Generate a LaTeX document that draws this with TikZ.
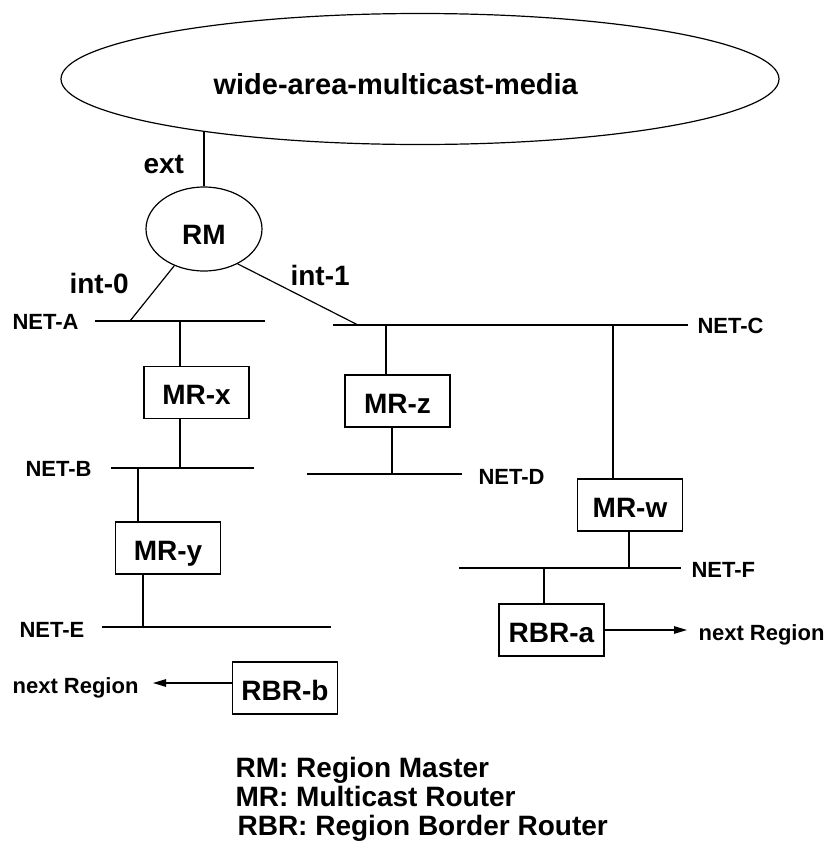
\documentclass[tikz,border=0pt]{standalone}
\usepackage{fontspec}
\setmainfont{Liberation Sans}
\usetikzlibrary{arrows.meta,shapes.geometric}

\begin{document}
\begin{tikzpicture}[x=1pt,y=-1pt,line width=1.2pt,>={Triangle[length=13pt,width=7.5pt]},
  big/.style={font=\bfseries\fontsize{28}{30}\selectfont},
  small/.style={font=\bfseries\fontsize{22}{24}\selectfont},
  lbl/.style={inner sep=0pt,anchor=base west},
  router/.style={draw,big,minimum width=105pt,minimum height=52pt,inner sep=0pt,
    text height=24pt,text depth=0pt}]
  \useasboundingbox (0,0) rectangle (828,855);
  % wide area media and region master
  \node[draw,ellipse,minimum width=718pt,minimum height=131pt] (wam) at (420,79) {};
  \node[lbl,font=\bfseries\fontsize{29}{31}\selectfont] (wamtxt) at (213,94) {wide-area-multicast-media};
  \node[draw,ellipse,big,minimum width=116pt,minimum height=84pt,inner sep=0pt,
    text height=30pt,text depth=0pt] (rm) at (204,229) {RM};
  \draw (rm.north) -- (rm.north |- wam.-166.4);
  \node[lbl,big] (ext) at (143,173) {ext};
  \node[lbl,big] (int0) at (69,293) {int-0};
  \node[lbl,big] (int1) at (290,285) {int-1};
  % networks
  \foreach \n/\xa/\xb/\y/\lx/\ly in {A/95/265/321/12/329, B/111/254/468/25/476,
      E/102/331/627/19/637, C/333/688/325/697/333, D/307/462/474/478/484,
      F/459/681/568/691/577} {
    \draw (\xa,\y) coordinate (net\n-w) -- (\xb,\y) coordinate (net\n-e);
    \node[lbl,small] (lbl\n) at (\lx,\ly) {NET-\n};
  }
  % routers
  \node[router] (mrx) at (196.5,392.5) {MR-x};
  \node[router] (mry) at (168,548) {MR-y};
  \node[router] (mrz) at (397.5,401) {MR-z};
  \node[router] (mrw) at (630,505) {MR-w};
  \node[router] (rbra) at (551.5,630) {RBR-a};
  \node[router] (rbrb) at (285,688) {RBR-b};
  % taps from the networks
  \foreach \t/\x/\y/\r/\s in {tA/180/321/mrx/north, tB/180/468/mrx/south,
      tB2/138/468/mry/north, tE/143/627/mry/south, tC/386/325/mrz/north,
      tD/392/474/mrz/south, tC2/613/325/mrw/north, tF/629/568/mrw/south,
      tF2/544/568/rbra/north} {
    \coordinate (\t) at (\x,\y);
    \draw (\t) -- (\r.\s -| \t);
  }
  \coordinate (tA0) at (130,321);
  \coordinate (tC0) at (358,325);
  \draw (rm.-129) -- (tA0);
  \draw (rm.-46) -- (tC0);
  % to the next regions
  \coordinate (outa) at (687,630);
  \coordinate (outb) at (153,683);
  \draw[->] (rbra.east) -- (outa);
  \draw[->] (outb -| rbrb.west) -- (outb);
  \node[lbl,small] (nexta) at (698,640) {next Region};
  \node[lbl,small] (nextb) at (12,693) {next Region};
  % legend
  \node[lbl,big] (key1) at (235,777) {RM: Region Master};
  \node[lbl,big] (key2) at (235,806) {MR: Multicast Router};
  \node[lbl,big] (key3) at (237,835) {RBR: Region Border Router};
\end{tikzpicture}
\end{document}
